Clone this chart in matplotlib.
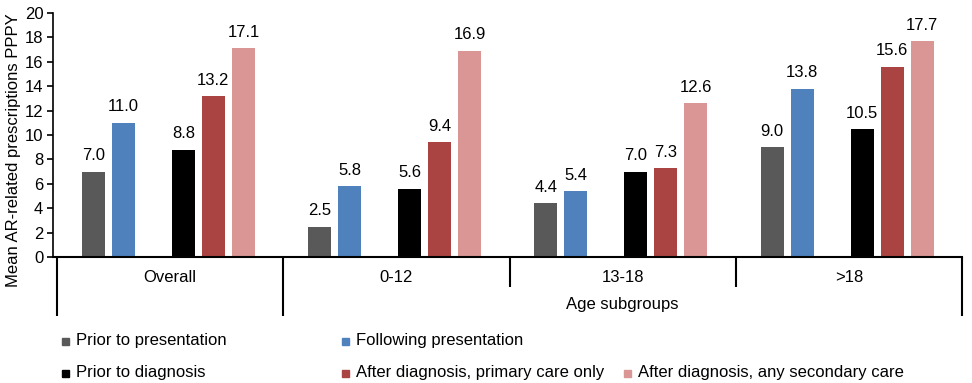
import matplotlib
matplotlib.use("Agg")
import matplotlib.pyplot as plt
import matplotlib.transforms as mtransforms
from matplotlib.patches import Rectangle
import numpy as np

plt.rcParams['font.family'] = ['Liberation Sans', 'DejaVu Sans']

groups = ["Overall", "0-12", "13-18", ">18"]
series_names = ["Prior to presentation", "Following presentation",
                "Prior to diagnosis", "After diagnosis, primary care only",
                "After diagnosis, any secondary care"]
prior_presentation = [7.0, 2.5, 4.4, 9.0]
following_presentation = [11.0, 5.8, 5.4, 13.8]
prior_diagnosis = [8.8, 5.6, 7.0, 10.5]
after_primary = [13.2, 9.4, 7.3, 15.6]
after_secondary = [17.1, 16.9, 12.6, 17.7]
series_values = [prior_presentation, following_presentation, prior_diagnosis,
                 after_primary, after_secondary]
colors = ["#595959", "#4f81bd", "#000000", "#aa4443", "#d99694"]
slot_index = [0, 1, 3, 4, 5]  # slot 2 left empty

W, H = 972, 383
fig = plt.figure(figsize=(W / 100, H / 100), dpi=100)
ax_left, ax_right, ax_bottom, ax_top = 53, 962, 257, 13
ax = fig.add_axes([ax_left / W, 1 - ax_bottom / H, (ax_right - ax_left) / W, (ax_bottom - ax_top) / H])

grp_px = (962 - 57) / 4.0
xleft = -0.5 - (57 - 53) / grp_px
ax.set_xlim(xleft, 3.5)
ax.set_ylim(0, 20)

x = np.arange(len(groups))
spacing = 0.1326
first = -0.339
width = 0.102
for vals, col, k in zip(series_values, colors, slot_index):
    pos = x + first + k * spacing
    bars = ax.bar(pos, vals, width=width, color=col, zorder=2)
    for b, v in zip(bars, vals):
        ax.annotate(f"{v:.1f}", (b.get_x() + b.get_width() / 2, v),
                    xytext=(0, 6), textcoords="offset points",
                    ha="center", va="bottom", fontsize=12, color="#000000")

ax.set_yticks(np.arange(0, 21, 2))
ax.tick_params(axis='y', labelsize=12, length=4, width=1.2, direction='out', pad=3, colors='#000000')
ax.set_xticks([])
for s in ['top', 'right']:
    ax.spines[s].set_visible(False)
ax.spines['left'].set_linewidth(1.2)
ax.spines['bottom'].set_linewidth(1.5)

ax.set_ylabel("Mean AR-related prescriptions PPPY", fontsize=12)
ax.yaxis.set_label_coords(-(53 - 21) / (ax_right - ax_left), 1 - (150 - ax_top) / (ax_bottom - ax_top))

axh = ax_bottom - ax_top
trans = mtransforms.blended_transform_factory(ax.transData, ax.transAxes)
def ay(py):
    return (ax_bottom - py) / axh

# separators
long_y = ay(316)
short_y = ay(287)
for xb, yb in zip([-0.5, 0.5, 1.5, 2.5, 3.5], [long_y, long_y, short_y, short_y, long_y]):
    ax.plot([xb, xb], [0, yb], transform=trans, color='black', lw=1.5, clip_on=False, solid_capstyle='butt')

for xi, g in zip(x, groups):
    ax.text(xi, ay(277), g, transform=trans, ha='center', va='center', fontsize=12)
ax.text(2.0, ay(305), "Age subgroups", transform=trans, ha='center', va='center', fontsize=12)

# legend (manual placement)
leg_pos = [(65, 340), (345, 340), (65, 372), (345, 372), (627, 372)]
for (lx, ly), name, col in zip(leg_pos, series_names, colors):
    sq = 7
    fig.patches.append(Rectangle(((lx - sq / 2) / W, 1 - (ly + 1 + sq / 2) / H), sq / W, sq / H,
                                 transform=fig.transFigure, color=col))
    fig.text((lx + 11) / W, 1 - ly / H, name, ha='left', va='center', fontsize=12)

fig.savefig("out.png", dpi=100)
